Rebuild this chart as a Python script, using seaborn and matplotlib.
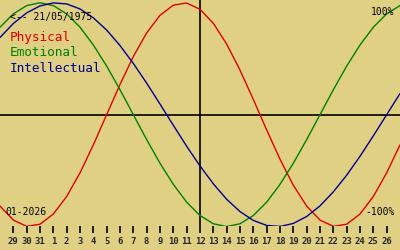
import matplotlib
matplotlib.use("Agg")
import matplotlib.pyplot as plt
import seaborn as sns
import pandas as pd

# Day index: -1 = 28 Dec 2025 ... 14 = 12 Jan 2026 ... 29 = 27 Jan 2026
days = list(range(-1, 30))
tick_labels = ["29", "30", "31"] + [str(d) for d in range(1, 27)]

physical = [-0.817, -0.942, -0.998, -0.979, -0.888, -0.731, -0.520, -0.270, 0.0,
            0.270, 0.520, 0.731, 0.888, 0.979, 0.998, 0.942, 0.817, 0.631, 0.398,
            0.136, -0.136, -0.398, -0.631, -0.817, -0.942, -0.998, -0.979, -0.888,
            -0.731, -0.520, -0.270]
emotional = [0.782, 0.901, 0.975, 1.0, 0.975, 0.901, 0.782, 0.623, 0.434, 0.223,
             0.0, -0.223, -0.434, -0.623, -0.782, -0.901, -0.975, -1.0, -0.975,
             -0.901, -0.782, -0.623, -0.434, -0.223, 0.0, 0.223, 0.434, 0.623,
             0.782, 0.901, 0.975]
intellectual = [0.690, 0.815, 0.910, 0.972, 0.999, 0.990, 0.945, 0.866, 0.756,
                0.618, 0.458, 0.282, 0.095, -0.095, -0.282, -0.458, -0.618, -0.756,
                -0.866, -0.945, -0.990, -0.999, -0.972, -0.910, -0.815, -0.690,
                -0.541, -0.372, -0.189, 0.0, 0.189]

series_names = ["Physical", "Emotional", "Intellectual"]
colors = ["#e00000", "#008000", "#000090"]
birth_label = "<-- 21/05/1975"
month_label = "01-2026"
center_day = 14

df = pd.DataFrame({
    "day": days * 3,
    "value": physical + emotional + intellectual,
    "cycle": [series_names[0]] * len(days) + [series_names[1]] * len(days)
             + [series_names[2]] * len(days),
})

bg = "#e0d084"
sns.set_theme(style="white")
plt.rcParams["font.family"] = ["DejaVu Sans Mono", "DejaVu Sans"]

W, H = 400, 250
fig = plt.figure(figsize=(4, 2.5), dpi=100, facecolor=bg)
ax = fig.add_axes([0, 24 / H, 1, 226 / H])
ax.set_facecolor(bg)

sns.lineplot(data=df, x="day", y="value", hue="cycle", palette=dict(zip(series_names, colors)),
             linewidth=1.0, legend=False, ax=ax)

ax.axhline(0, color="black", lw=1.2, zorder=1)
ax.axvline(center_day, color="black", lw=1.2, zorder=1)

ax.set_xlim(-1, 29)
ax.set_ylim(-0.995, 1.025)
for s in ax.spines.values():
    s.set_visible(False)
ax.set_yticks([])
ax.set_xticks(list(range(0, 29)))
ax.set_xticklabels(tick_labels, fontsize=6.4, fontweight="bold", family="DejaVu Sans Mono")
ax.tick_params(axis="x", direction="out", length=5, width=1.2, color="black",
               pad=3, bottom=True)
ax.minorticks_off()
ax.set_xlabel("")
ax.set_ylabel("")

def px(x, y):
    return x / W, 1 - y / H

fig.text(*px(10, 16.5), birth_label, fontsize=7, color="black", va="center", ha="left")
for name, c, yy in zip(series_names, colors, [37, 53, 68]):
    fig.text(*px(10, yy), name, fontsize=9.2, color=c, va="center", ha="left")
fig.text(*px(394, 12), "100%", fontsize=7, color="black", va="center", ha="right")
fig.text(*px(395, 212), "-100%", fontsize=7, color="black", va="center", ha="right")
fig.text(*px(5, 212), month_label, fontsize=7, color="black", va="center", ha="left")

fig.savefig("out.png", dpi=100, facecolor=bg)
